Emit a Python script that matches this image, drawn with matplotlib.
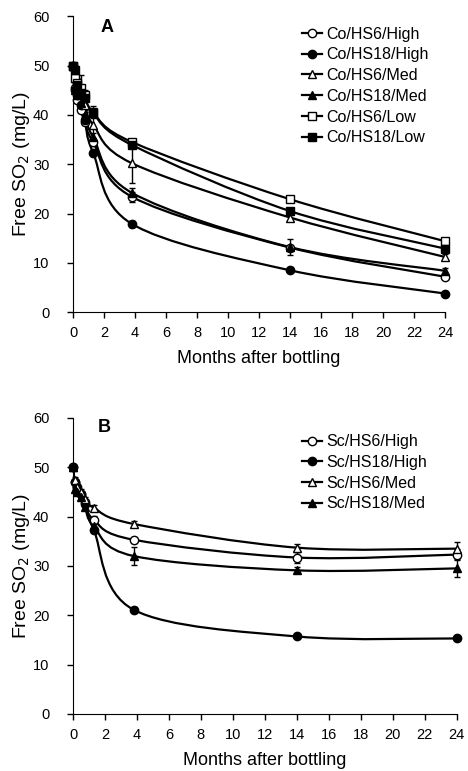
import numpy as np
import matplotlib
matplotlib.use("Agg")
import matplotlib.pyplot as plt
from matplotlib.path import Path
from matplotlib.patches import PathPatch
from matplotlib.lines import Line2D

plt.rcParams['font.family'] = ['Liberation Sans', 'DejaVu Sans']

# months after bottling
months = [0, 0.1, 0.25, 0.5, 0.75, 1.3, 3.8, 14, 24]

# panel A (Co)
a_labels = ["Co/HS6/High", "Co/HS18/High", "Co/HS6/Med", "Co/HS18/Med", "Co/HS6/Low", "Co/HS18/Low"]
a_hs6_high = [50, 45.5, 43, 41, 38.5, 34.5, 23.4, 13.1, 7.2]
a_hs18_high = [50, 45, 44, 42, 39, 32.3, 17.9, 8.5, 3.8]
a_hs6_med = [50, 47.5, 46, 44, 42, 38, 30.2, 19.2, 11.2]
a_hs18_med = [50, 45, 44, 42.5, 40, 35.5, 24.2, 13.2, 8.4]
a_hs6_low = [50, 47.5, 46.5, 45.5, 44, 40.5, 34.5, 22.9, 14.4]
a_hs18_low = [50, 49, 46, 44.5, 43.5, 40.3, 33.9, 20.5, 12.9]
a_err = [
    [0, 0, 0, 0.5, 0.5, 0.8, 1.0, 0.6, 0.5],
    [0, 0, 0, 0.4, 0.4, 0.5, 0.6, 0.4, 0.3],
    [0, 0.8, 0.5, 1.0, 1.0, 3.0, 4.0, 0.8, 0.6],
    [0, 0.5, 0.5, 0.5, 0.6, 0.8, 1.0, 1.6, 0.6],
    [0, 2.0, 1.0, 2.5, 1.0, 1.2, 0.6, 0.5, 0.5],
    [0, 0.5, 0.5, 0.5, 0.5, 0.5, 0.5, 0.5, 0.5],
]

# panel B (Sc)
b_labels = ["Sc/HS6/High", "Sc/HS18/High", "Sc/HS6/Med", "Sc/HS18/Med"]
b_hs6_high = [50, 47, 45.5, 44.5, 43, 39.3, 35.3, 31.7, 32.3]
b_hs18_high = [50, 47, 46, 44.5, 42.5, 37.3, 21.1, 15.7, 15.3]
b_hs6_med = [50, 47.5, 46, 45, 43.5, 41.8, 38.5, 33.7, 33.5]
b_hs18_med = [50, 45.5, 45, 44, 42, 38, 32, 29.1, 29.5]
b_err = [
    [0, 0.5, 0.5, 0.5, 0.5, 0.8, 0.6, 1.2, 1.2],
    [0, 0.5, 0.5, 0.5, 0.5, 0.6, 0.5, 0.4, 0.4],
    [0, 0.5, 0.5, 0.5, 0.5, 0.6, 0.6, 0.8, 1.4],
    [0, 0.5, 0.5, 0.5, 0.5, 1.0, 1.9, 0.6, 1.8],
]

styles = [("o", "white"), ("o", "black"), ("^", "white"), ("^", "black"), ("s", "white"), ("s", "black")]


def smooth_path(x, y):
    # bezier through the points, like a spreadsheet "smoothed line"
    pts = np.column_stack([x, y]).astype(float)
    ext = np.vstack([pts[0], pts, pts[-1]])
    verts = [pts[0]]
    codes = [Path.MOVETO]
    for i in range(len(pts) - 1):
        p0, p1, p2, p3 = ext[i], ext[i + 1], ext[i + 2], ext[i + 3]
        verts += [p1 + (p2 - p0) / 6, p2 - (p3 - p1) / 6, p2]
        codes += [Path.CURVE4] * 3
    return Path(verts, codes)


def panel(ax, series, errs, labels, letter, lpos, legpos):
    for (y, e, (m, fc)) in zip(series, errs, styles):
        ax.add_patch(PathPatch(smooth_path(months, y), fill=False, lw=1.6, ec="black", zorder=2))
        ax.errorbar(months, y, yerr=e, fmt=m, mfc=fc, mec="black", ecolor="black",
                    ms=6, mew=1.0, elinewidth=1.0, capsize=2, zorder=3, clip_on=False)
    handles = [Line2D([], [], color="black", lw=1.6, marker=m, mfc=fc, mec="black", ms=6, mew=1.0)
               for (m, fc) in styles[:len(series)]]
    ax.legend(handles, labels, loc="upper left", bbox_to_anchor=legpos, frameon=False,
              fontsize=11.5, handlelength=1.25, handletextpad=0.25, labelspacing=0.36,
              borderpad=0, borderaxespad=0)
    ax.set_xlim(0, 24)
    ax.set_ylim(0, 60)
    ax.set_xticks(range(0, 25, 2))
    ax.set_yticks(range(0, 61, 10))
    ax.spines["top"].set_visible(False)
    ax.spines["right"].set_visible(False)
    ax.tick_params(direction="out", length=4, labelsize=10.5, width=1)
    ax.tick_params(axis="y", pad=13)
    ax.tick_params(axis="x", pad=6)
    ax.set_xlabel("Months after bottling", fontsize=13, labelpad=7)
    ax.set_ylabel("Free SO$_2$ (mg/L)", fontsize=14, labelpad=1)
    ax.text(lpos[0], lpos[1], letter, transform=ax.transAxes, fontsize=13, fontweight="bold")


fig = plt.figure(figsize=(4.68, 7.71), dpi=100)
ax1 = fig.add_axes([0.156, 0.595, 0.795, 0.384])
ax2 = fig.add_axes([0.156, 0.074, 0.82, 0.384])

panel(ax1, [a_hs6_high, a_hs18_high, a_hs6_med, a_hs18_med, a_hs6_low, a_hs18_low], a_err, a_labels,
      "A", (0.073, 0.946), (0.615, 0.965))
panel(ax2, [b_hs6_high, b_hs18_high, b_hs6_med, b_hs18_med], b_err, b_labels,
      "B", (0.065, 0.953), (0.598, 0.945))

fig.savefig("out.png", dpi=100)
